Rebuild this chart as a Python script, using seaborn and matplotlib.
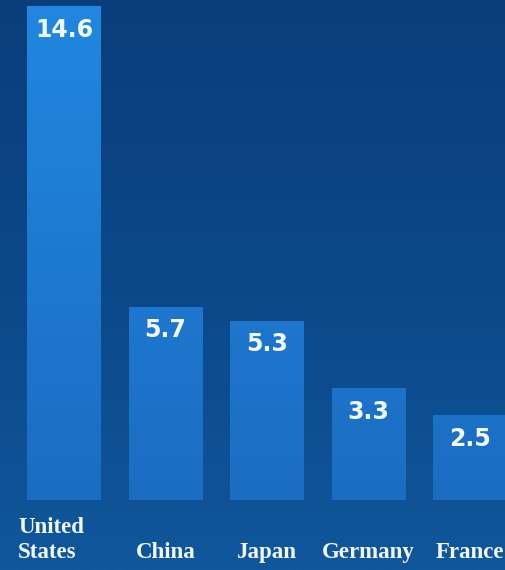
import numpy as np
import pandas as pd
import matplotlib
matplotlib.use("Agg")
from matplotlib import pyplot as plt
from matplotlib import transforms
from matplotlib.colors import LinearSegmentedColormap
import seaborn as sns

countries = ["United\nStates", "China", "Japan", "Germany", "France"]
values = [14.6, 5.7, 5.3, 3.3, 2.5]
value_labels = ["14.6", "5.7", "5.3", "3.3", "2.5"]

df = pd.DataFrame({"country": countries, "value": values})

fig = plt.figure(figsize=(5.05, 5.7), dpi=100)

# background gradient
bg = fig.add_axes([0, 0, 1, 1])
bg.set_axis_off()
grad = np.linspace(0, 1, 256).reshape(-1, 1)
bg_cmap = LinearSegmentedColormap.from_list("bg", ["#0a3e7b", "#0c4889", "#10579b"])
bg.imshow(grad, aspect="auto", cmap=bg_cmap, extent=[0, 1, 0, 1], origin="upper")

ax = fig.add_axes([0, 70 / 570, 1, 500 / 570])
ax.patch.set_alpha(0)
sns.barplot(data=df, x="country", y="value", color="#1e7ed6", width=0.72,
            saturation=1, ax=ax)
ax.set_xlim(-0.63, 4.345)
ax.set_ylim(0, 14.79)

# vertical gradient inside bars
bar_cmap = LinearSegmentedColormap.from_list("bars", ["#2187e0", "#1b6dc2"])
for p in ax.patches:
    img = ax.imshow(grad, aspect="auto", cmap=bar_cmap, origin="upper",
                    extent=[p.get_x(), p.get_x() + p.get_width(), 0, 14.79],
                    zorder=p.get_zorder() + 0.1)
    img.set_clip_path(p)

# value labels
labels = ax.bar_label(ax.containers[0], labels=value_labels, padding=-8,
                      color="#f2f8ff", fontsize=17, fontweight="bold")
for t in labels:
    t.set_va("top")
    t.set_zorder(5)

for s in ax.spines.values():
    s.set_visible(False)
ax.set_xticks([])
ax.set_yticks([])
ax.set_xlabel("")
ax.set_ylabel("")

# category labels under the bars
trans = transforms.blended_transform_factory(ax.transData, fig.transFigure)
for i, name in enumerate(countries):
    two_lines = "\n" in name
    ax.text(i - 0.45 if two_lines else i, (570 - 558) / 570, name,
            transform=trans, ha="left" if two_lines else "center",
            va="baseline", color="#f2f8ff", fontsize=16.5, fontweight="bold",
            family="Liberation Serif", linespacing=1.25, clip_on=False)

fig.savefig("out.png", dpi=100)
